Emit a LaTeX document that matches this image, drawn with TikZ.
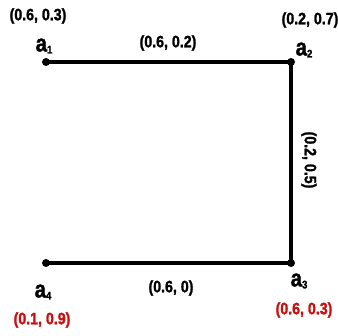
\documentclass[tikz,border=0pt]{standalone}
\usepackage{fontspec}
\setmainfont{Liberation Sans}
\newfontfamily\narrowbold[FakeStretch=0.86,FakeBold=1.5]{Liberation Sans Bold}
\begin{document}
\begin{tikzpicture}[x=1pt,y=-1pt,
  edge/.style={line width=3.5pt},
  pt/.style={circle,fill=black,inner sep=0pt,minimum size=8pt},
  coord/.style={font=\fontsize{16.5}{18}\narrowbold,inner sep=0pt},
  red coord/.style={coord,text=darkred},
  vlabel/.style={font=\fontsize{24}{26}\narrowbold,inner sep=0pt}]
\definecolor{darkred}{RGB}{200,16,16}
\useasboundingbox (0,0) rectangle (338,336);
\newcommand{\vsub}[1]{\raisebox{-2pt}{\fontsize{11}{12}\selectfont #1}}
\node[pt] (a1) at (46,62) {};
\node[pt] (a2) at (291,62) {};
\node[pt] (a3) at (291,263) {};
\node[pt] (a4) at (46,263) {};
\draw[edge] (a1.center) -- (a2.center) -- (a3.center) -- (a4.center);
\node[coord] (c1) at (38,16) {(0.6, 0.3)};
\node[vlabel] (l1) at (44,46) {a\vsub{1}};
\node[coord] (e12) at (168,43) {(0.6, 0.2)};
\node[coord] (c2) at (310,20) {(0.2, 0.7)};
\node[vlabel] (l2) at (304,50) {a\vsub{2}};
\node[coord,rotate=-90] (e23) at (309,160) {(0.2, 0.5)};
\node[vlabel] (l3) at (299,281) {a\vsub{3}};
\node[red coord] (c3) at (304,310) {(0.6, 0.3)};
\node[coord] (e34) at (171,288) {(0.6, 0)};
\node[vlabel] (l4) at (43,292) {a\vsub{4}};
\node[red coord] (c4) at (42,320) {(0.1, 0.9)};
\end{tikzpicture}
\end{document}
